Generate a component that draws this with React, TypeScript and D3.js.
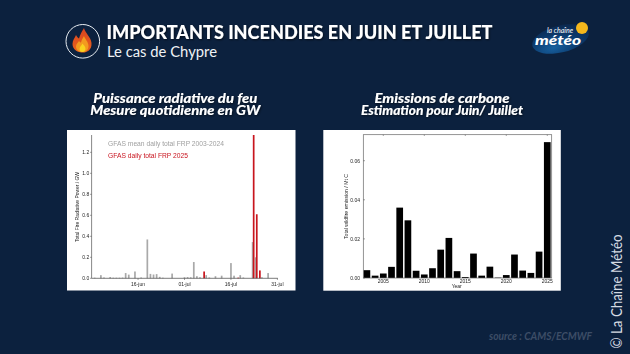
import React from "react";
import * as d3 from "d3";

const BG = "#0c213e";
const title = "IMPORTANTS INCENDIES EN JUIN ET JUILLET";
const subtitle = "Le cas de Chypre";
const leftHeading = ["Puissance radiative du feu", "Mesure quotidienne en GW"];
const rightHeading = ["Emissions de carbone", "Estimation pour Juin/ Juillet"];

// Days of the season as [month index, day]
const grayDates: [number, number][] = [[5,2],[5,4],[5,5],[5,7],[5,8],[5,9],[5,10],[5,11],[5,12],[5,13],[5,15],[5,17],[5,19],[5,20],[5,21],[5,22],[5,23],[5,24],[5,27],[6,1],[6,2],[6,3],[6,4],[6,5],[6,6],[6,8],[6,9],[6,11],[6,13],[6,16],[6,17],[6,19],[6,20],[6,23],[6,24],[6,26],[6,28]];
const grayValues = [0.006,0.03,0.008,0.012,0.006,0.006,0.006,0.007,0.05,0.035,0.065,0.008,0.37,0.042,0.036,0.04,0.014,0.006,0.045,0.01,0.012,0.01,0.155,0.02,0.01,0.03,0.008,0.02,0.025,0.145,0.025,0.03,0.008,0.345,0.2,0.01,0.05];
const redDates: [number, number][] = [[6,7],[6,23],[6,24],[6,25],[6,18]];
const redValues = [0.065,1.37,0.61,0.075,0.006];
const frpTicks = [0,0.2,0.4,0.6,0.8,1.0,1.2];
const dateTicks: [[number, number], string][] = [[[5,16],"16-jun"],[[6,1],"01-jul"],[[6,16],"16-jul"],[[6,31],"31-jul"]];

const years = d3.range(2003, 2026);
const emissions = [0.004,0.0012,0.0023,0.0057,0.036,0.0295,0.0037,0.0018,0.005,0.0145,0.0205,0.0035,0.0005,0.0125,0.0012,0.0058,0.0002,0.0015,0.012,0.0038,0.0026,0.0135,0.0695];
const emTicks = [0,0.02,0.04,0.06];
const yearTicks = [2005,2010,2015,2020,2025];

const d = (md: [number, number]) => new Date(Date.UTC(2025, md[0], md[1]));
const xL = d3.scaleUtc().domain([d([5,1]), d([6,31])]).range([91.6, 277.4]);
const yL = d3.scaleLinear().domain([0, 1.365]).range([278.3, 135]);
const xR = d3.scaleLinear().domain([2002.56, 2025.54]).range([363.3, 551.7]);
const yR = d3.scaleLinear().domain([0, 0.0733]).range([278, 134.7]);

const tick = { fontFamily: "Liberation Sans", fontSize: 5, fill: "#222" };

export default function App() {
  return (
    <svg width={630} height={354} style={{ position: "fixed", left: 0, top: 0, background: BG }}>
      <defs>
        <filter id="soft" x="-5%" y="-5%" width="110%" height="110%"><feGaussianBlur stdDeviation="0.35" /></filter>
        <filter id="shadow" x="-5%" y="-20%" width="110%" height="150%"><feDropShadow dx="0.8" dy="1" stdDeviation="0.8" floodColor="#000" floodOpacity="0.6" /></filter>
        <linearGradient id="flame" x1="0" y1="0" x2="0" y2="1"><stop offset="0" stopColor="#d8431f" /><stop offset="1" stopColor="#e9641e" /></linearGradient>
        <radialGradient id="logo" cx="0.35" cy="0.75" r="0.75"><stop offset="0" stopColor="#17609f" /><stop offset="0.6" stopColor="#0c3a6c" /><stop offset="1" stopColor="#0b2a52" /></radialGradient>
      </defs>

      {/* flame badge */}
      <circle cx={82.8} cy={41.3} r={16.8} fill={BG} stroke="#e8edf2" strokeWidth={1} />
      <path d="M84 28 C85 33 91 37 91.5 43 C92 50 87 52.5 83 52.5 C78 52.5 72.5 50 72.5 44 C72.5 40 75 37.5 76 35 C77 37 78 38 79 38.5 C80 35 82 31 84 28 Z" fill="url(#flame)" />
      <path d="M84 36 C85 39 88.5 42 88.5 46 C88.5 50 85.5 52 82.5 52 C79 52 76 50 76 46.5 C76 44 78 42.5 79 41 C80 42 80.5 42.5 81 42.5 C81.5 40 83 38 84 36 Z" fill="#f39a1f" />
      <path d="M82.5 43.5 C83.5 45 85.5 46.5 85.5 48.8 C85.5 50.8 84 52 82.5 52 C80.8 52 79.5 50.8 79.5 49 C79.5 47 81.5 45.5 82.5 43.5 Z" fill="#f9d21e" />

      <g filter="url(#shadow)">
        <text x={106.5} y={38.5} fontFamily="Lato" fontWeight={900} fontSize={19.5} fill="#fff" textLength={386} lengthAdjust="spacingAndGlyphs">{title}</text>
      </g>
      <text x={107} y={57} fontFamily="Lato" fontSize={15.5} fill="#f0f3f6" textLength={110} lengthAdjust="spacingAndGlyphs">{subtitle}</text>

      {/* logo */}
      <ellipse cx={560.5} cy={39} rx={29} ry={13.5} transform="rotate(-14 560.5 39)" fill="url(#logo)" />
      <circle cx={582} cy={28} r={6} fill="#f5b71c" />
      <text x={547} y={32.5} fontFamily="Lato" fontStyle="italic" fontSize={7} fill="#fff" textLength={26} lengthAdjust="spacingAndGlyphs">la chaîne</text>
      <text x={535} y={44.5} fontFamily="Lato" fontStyle="italic" fontWeight={900} fontSize={14} fill="#fff" textLength={46} lengthAdjust="spacingAndGlyphs">météo</text>

      {/* headings */}
      <g filter="url(#shadow)" fontFamily="Lato" fontWeight={900} fontStyle="italic" fontSize={12.5} fill="#fff" textAnchor="middle">
        <text x={175.3} y={103} textLength={164} lengthAdjust="spacingAndGlyphs">{leftHeading[0]}</text>
        <text x={175.3} y={115} textLength={170} lengthAdjust="spacingAndGlyphs">{leftHeading[1]}</text>
        <text x={442} y={103} textLength={135} lengthAdjust="spacingAndGlyphs">{rightHeading[0]}</text>
        <text x={442} y={115} textLength={162} lengthAdjust="spacingAndGlyphs">{rightHeading[1]}</text>
      </g>

      {/* panels */}
      <rect x={67} y={130} width={228.5} height={160.5} fill="#fff" />
      <rect x={323.3} y={130} width={237.5} height={160.7} fill="#fff" />

      <g filter="url(#soft)">
        {/* left chart */}
        {grayDates.map((md, i) => (
          <rect key={i} x={xL(d(md)) - 0.85} width={1.7} y={yL(grayValues[i])} height={yL(0) - yL(grayValues[i])} fill="#a9a9a9" />
        ))}
        {redDates.map((md, i) => {
          const v = Math.min(redValues[i], 1.365);
          return <rect key={i} x={xL(d(md)) + 0.2} width={1.7} y={yL(v)} height={yL(0) - yL(v)} fill="#c8141e" />;
        })}
        <line x1={xL.range()[0]} x2={xL.range()[0]} y1={135} y2={278.3} stroke="#555" strokeWidth={0.7} />
        <line x1={xL.range()[0]} x2={xL.range()[1] + 0.5} y1={278.3} y2={278.3} stroke="#444" strokeWidth={0.7} />
        {frpTicks.map(t => (
          <g key={t}>
            <line x1={90} x2={91.6} y1={yL(t)} y2={yL(t)} stroke="#444" strokeWidth={0.5} />
            <text {...tick} x={89.3} y={yL(t) + 1.8} textAnchor="end">{t.toFixed(1)}</text>
          </g>
        ))}
        {dateTicks.map(([md, s]) => (
          <g key={s}>
            <line x1={xL(d(md))} x2={xL(d(md))} y1={278.3} y2={280} stroke="#444" strokeWidth={0.5} />
            <text {...tick} x={xL(d(md))} y={286.2} textAnchor="middle">{s}</text>
          </g>
        ))}
        <text {...tick} transform="translate(78.5,207) rotate(-90)" textAnchor="middle" textLength={70} lengthAdjust="spacingAndGlyphs">Total Fire Radiative Power / GW</text>
        <text x={108} y={145.5} fontFamily="Liberation Sans" fontSize={7} fill="#a0a0a0" textLength={116} lengthAdjust="spacingAndGlyphs">GFAS mean daily total FRP 2003-2024</text>
        <text x={108} y={157.5} fontFamily="Liberation Sans" fontSize={7} fill="#c8141e" textLength={80} lengthAdjust="spacingAndGlyphs">GFAS daily total FRP 2025</text>

        {/* right chart */}
        {years.map((yr, i) => (
          <rect key={yr} x={xR(yr) - 3.35} width={6.7} y={yR(emissions[i])} height={yR(0) - yR(emissions[i])} fill="#000" />
        ))}
        <rect x={363.3} y={134.7} width={188.4} height={143.3} fill="none" stroke="#666" strokeWidth={0.7} />
        {emTicks.map(t => (
          <g key={t}>
            <line x1={363.3} x2={365} y1={yR(t)} y2={yR(t)} stroke="#444" strokeWidth={0.5} />
            <text {...tick} x={360} y={yR(t) + 1.8} textAnchor="end">{t.toFixed(2)}</text>
          </g>
        ))}
        {yearTicks.map(t => (
          <g key={t}>
            <line x1={xR(t)} x2={xR(t)} y1={134.7} y2={136} stroke="#444" strokeWidth={0.5} />
            <text {...tick} x={xR(t)} y={282.8} textAnchor="middle">{t}</text>
          </g>
        ))}
        <text {...tick} x={456.7} y={287.6} textAnchor="middle">Year</text>
        <text {...tick} transform="translate(347.5,206.5) rotate(-90)" textAnchor="middle" textLength={65} lengthAdjust="spacingAndGlyphs">Total wildfire emission / Mt C</text>
      </g>

      {/* footer */}
      <text x={489} y={340} fontFamily="Lato" fontStyle="italic" fontWeight={700} fontSize={10.5} fill="#3d4d66" textLength={103} lengthAdjust="spacingAndGlyphs">source : CAMS/ECMWF</text>
      <text transform="translate(622,348.5) rotate(-90)" fontFamily="Lato" fontSize={14.5} fill="#d5dbe3" textLength={114} lengthAdjust="spacingAndGlyphs">© La Chaîne Météo</text>
    </svg>
  );
}
